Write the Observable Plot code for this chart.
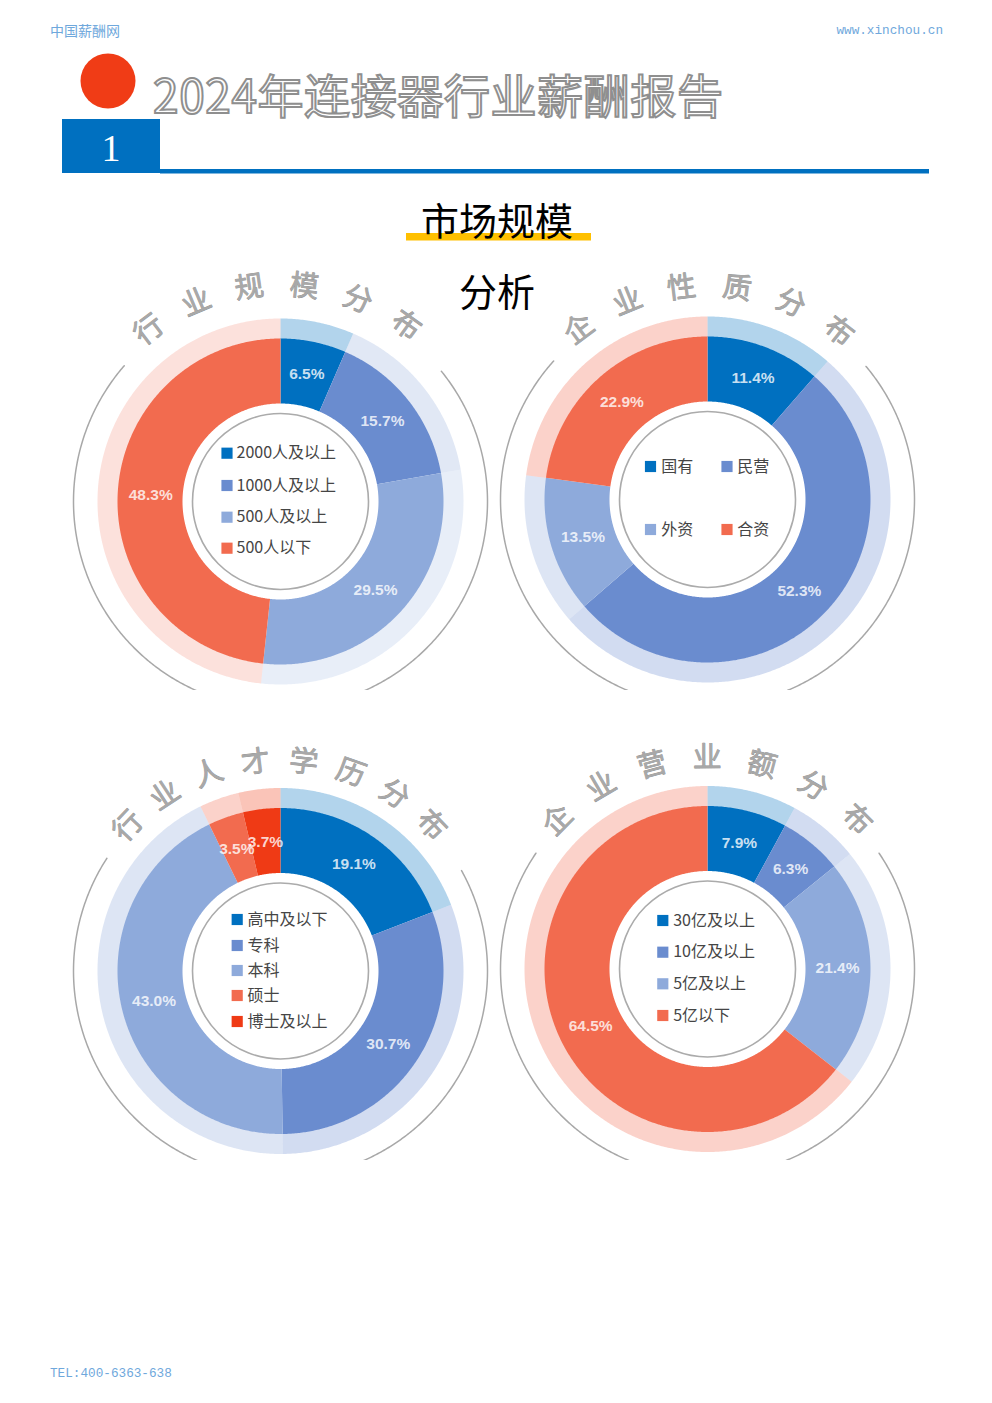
<!DOCTYPE html>
<html>
<head>
<meta charset="utf-8">
<script src="https://cdn.jsdelivr.net/npm/d3@7"></script>
<script src="https://cdn.jsdelivr.net/npm/@observablehq/plot@0.6"></script>
<style>
  body { margin: 0; background: #fff; }
  #page { position: relative; width: 992px; height: 1403px; overflow: hidden; background: #fff; }
  #deco { position: absolute; left: 0; top: 0; }
  .chart { position: absolute; }
  .chart svg { overflow: hidden; }
</style>
</head>
<body>
<div id="page">
  <svg id="deco" width="992" height="1403" xmlns="http://www.w3.org/2000/svg">
    <text x="50" y="30" dominant-baseline="central" font-family="Noto Sans CJK SC" font-size="14" fill="#6fa8dc">中国薪酬网</text>
    <text x="943" y="30" dominant-baseline="central" text-anchor="end" font-family="Liberation Mono" font-size="12.7" fill="#6fa8dc">www.xinchou.cn</text>
    <circle cx="108" cy="81" r="27.5" fill="#f03c16"></circle>
    <text x="153" y="93" dominant-baseline="central" font-family="Noto Sans CJK SC" font-size="46" letter-spacing="0.6" fill="#ffffff" stroke="#8f8f8f" stroke-width="2">2024年连接器行业薪酬报告</text>
    <rect x="160" y="169" width="769" height="4.5" fill="#0070c0"></rect>
    <rect x="62" y="119" width="98" height="54" fill="#0070c0"></rect>
    <text x="111" y="148" dominant-baseline="central" text-anchor="middle" font-family="Liberation Serif" font-size="38" fill="#ffffff">1</text>
    <rect x="406" y="233" width="185" height="7.5" fill="#ffc000"></rect>
    <text x="497" y="218" dominant-baseline="central" text-anchor="middle" font-family="Noto Sans CJK SC" font-size="38" fill="#000">市场规模</text>
    <text x="497" y="289" dominant-baseline="central" text-anchor="middle" font-family="Noto Sans CJK SC" font-size="38" fill="#000">分析</text>
    <text x="50" y="1373" dominant-baseline="central" font-family="Liberation Mono" font-size="12.7" fill="#6fa8dc">TEL:400-6363-638</text>
  </svg>
</div>
<script>
// ---------------- data ----------------
const sizeCategories = ["2000人及以上", "1000人及以上", "500人及以上", "500人以下"];
const sizeValues = [6.5, 15.7, 29.5, 48.3];

const natureCategories = ["国有", "民营", "外资", "合资"];
const natureValues = [11.4, 52.3, 13.5, 22.9];

const eduCategories = ["高中及以下", "专科", "本科", "硕士", "博士及以上"];
const eduValues = [19.1, 30.7, 43.0, 3.5, 3.7];

const revenueCategories = ["30亿及以上", "10亿及以上", "5亿及以上", "5亿以下"];
const revenueValues = [7.9, 6.3, 21.4, 64.5];

const chartTitles = ["行业规模分布", "企业性质分布", "行业人才学历分布", "企业营业额分布"];

// ---------------- styles / layout ----------------
const BLUE1 = "#0070c0", BLUE2 = "#6a8ccf", BLUE3 = "#8eaadb", ORANGE = "#f26b4f", RED = "#ef3a15";

const charts = [
  { cats: sizeCategories, vals: sizeValues, title: chartTitles[0],
    colors: [BLUE1, BLUE2, BLUE3, ORANGE], lightOpacity: [0.3, 0.2, 0.2, 0.2],
    left: 60, top: 250, width: 440, height: 440, cx: 220, cy: 251,
    titleR: 216, titleA: [-37.5, 35.5], gap: [49, 51],
    legend: { cols: 1, sqX: -53.5, txX: -44, rows: [-48.3, -16, 15.7, 46.7] } },
  { cats: natureCategories, vals: natureValues, title: chartTitles[1],
    colors: [BLUE1, BLUE2, BLUE3, ORANGE], lightOpacity: [0.3, 0.3, 0.3, 0.3],
    left: 493, top: 250, width: 440, height: 440, cx: 214, cy: 249,
    titleR: 213, titleA: [-37, 38], gap: [48, 50],
    legend: { cols: 2, sqX: [-57, 19.5], txX: [-46.3, 29.7], rows: [-33, 30] } },
  { cats: eduCategories, vals: eduValues, title: chartTitles[2],
    colors: [BLUE1, BLUE2, BLUE3, ORANGE, RED], lightOpacity: [0.3, 0.3, 0.3, 0.3, 0.3],
    left: 60, top: 720, width: 440, height: 440, cx: 220, cy: 250.5,
    titleR: 210, titleA: [-46.5, 46], gap: [57, 61],
    legend: { cols: 1, sqX: -43.3, txX: -33, rows: [-51.5, -25.5, -0.5, 24.5, 50.5] } },
  { cats: revenueCategories, vals: revenueValues, title: chartTitles[3],
    colors: [BLUE1, BLUE2, BLUE3, ORANGE], lightOpacity: [0.3, 0.3, 0.3, 0.3],
    left: 493, top: 720, width: 440, height: 440, cx: 214, cy: 248.5,
    titleR: 211, titleA: [-45.2, 45], gap: [56, 56],
    legend: { cols: 1, sqX: -44.7, txX: -34.3, rows: [-48.5, -16.8, 14.8, 46.5] } }
];

const R_HOLE = 98, R_MAIN = 163, R_LIGHT = 183, R_ARC = 207, R_CIRCLE = 88, R_LABEL = 130;
const rad = Math.PI / 180;

function pt(r, a) { return [r * Math.sin(a), -r * Math.cos(a)]; }

function sector(a0, a1, r0, r1) {
  const n = Math.max(2, Math.ceil((a1 - a0) / (0.5 * rad)));
  const pts = [];
  for (let i = 0; i <= n; i++) pts.push(pt(r1, a0 + (a1 - a0) * i / n));
  for (let i = n; i >= 0; i--) pts.push(pt(r0, a0 + (a1 - a0) * i / n));
  pts.push(pts[0]);
  return { type: "Polygon", coordinates: [pts] };
}

function arcLine(aStart, aEnd, r) {
  const pts = [];
  const n = Math.ceil((aEnd - aStart) / 0.5);
  for (let i = 0; i <= n; i++) pts.push(pt(r, (aStart + (aEnd - aStart) * i / n) * rad));
  return { type: "LineString", coordinates: pts };
}

const page = document.getElementById("page");

charts.forEach((C) => {
  const pie = d3.pie().sort(null).value((d) => d.value)(C.cats.map((c, i) => ({ category: c, value: C.vals[i], i })));

  const mainSlices = pie.map((p) => ({ type: "Feature", properties: p.data, geometry: sector(p.startAngle, p.endAngle, R_HOLE, R_MAIN) }));
  const lightSlices = pie.map((p) => ({ type: "Feature", properties: p.data, geometry: sector(p.startAngle, p.endAngle, R_MAIN - 0.5, R_LIGHT) }));
  const labels = pie.map((p) => {
    const a = (p.startAngle + p.endAngle) / 2;
    const [x, y] = pt(R_LABEL, a);
    return { x, y, text: p.data.value.toFixed(1) + "%", category: p.data.category };
  });

  const chars = Array.from(C.title);
  const titleChars = chars.map((ch, i) => {
    const a = C.titleA[0] + (C.titleA[1] - C.titleA[0]) * i / (chars.length - 1);
    const [x, y] = pt(C.titleR, a * rad);
    return { x, y, ch, rot: a };
  });

  const grayArc = { type: "Feature", properties: {}, geometry: arcLine(C.gap[1], 360 - C.gap[0], R_ARC) };

  const L = C.legend;
  const legend = C.cats.map((c, i) => {
    if (L.cols === 2) {
      const col = i % 2, row = Math.floor(i / 2);
      return { category: c, sx: L.sqX[col], tx: L.txX[col], y: L.rows[row] };
    }
    return { category: c, sx: L.sqX, tx: L.txX, y: L.rows[i] };
  });

  const lightFeatures = lightSlices.map((f, i) => ({ ...f, properties: { ...f.properties, op: C.lightOpacity[i] } }));

  const chart = Plot.plot({
    width: C.width,
    height: C.height,
    margin: 0,
    style: { background: "transparent" },
    projection: {
      type: "identity",
      domain: { type: "MultiPoint", coordinates: [[-C.cx, -C.cy], [C.width - C.cx, C.height - C.cy]] }
    },
    color: { type: "ordinal", domain: C.cats, range: C.colors },
    marks: [
      Plot.geo(lightFeatures, { fill: (d) => d.properties.category, fillOpacity: (d) => d.properties.op }),
      Plot.geo(mainSlices, { fill: (d) => d.properties.category }),
      Plot.geo([grayArc], { stroke: "#a8a8a8", strokeWidth: 1.5, fill: "none" }),
      Plot.dot([{ x: 0, y: 0 }], { x: "x", y: "y", r: R_CIRCLE, stroke: "#ababab", strokeWidth: 1.6, fill: "none" }),
      Plot.text(labels, {
        x: "x", y: "y", text: "text", fill: "#ffffff", fillOpacity: 0.8,
        fontSize: 15.5, fontWeight: "bold", fontFamily: "Liberation Sans, Arial, sans-serif"
      }),
      Plot.text(titleChars, {
        x: "x", y: "y", text: "ch", rotate: "rot", fontSize: 29,
        fontFamily: "Noto Sans CJK SC", fill: "#a8a8a8", stroke: "#8c8c8c", strokeWidth: 0.7
      }),
      Plot.dot(legend, { x: "sx", y: "y", symbol: "square", r: 6.3, fill: "category", stroke: "none" }),
      Plot.text(legend, {
        x: "tx", y: "y", text: "category", textAnchor: "start", fontSize: 16,
        fontFamily: "Noto Sans CJK SC", fill: "#454545"
      })
    ]
  });

  const holder = document.createElement("div");
  holder.className = "chart";
  holder.style.left = C.left + "px";
  holder.style.top = C.top + "px";
  holder.appendChild(chart);
  page.appendChild(holder);
});
</script>
</body>
</html>
